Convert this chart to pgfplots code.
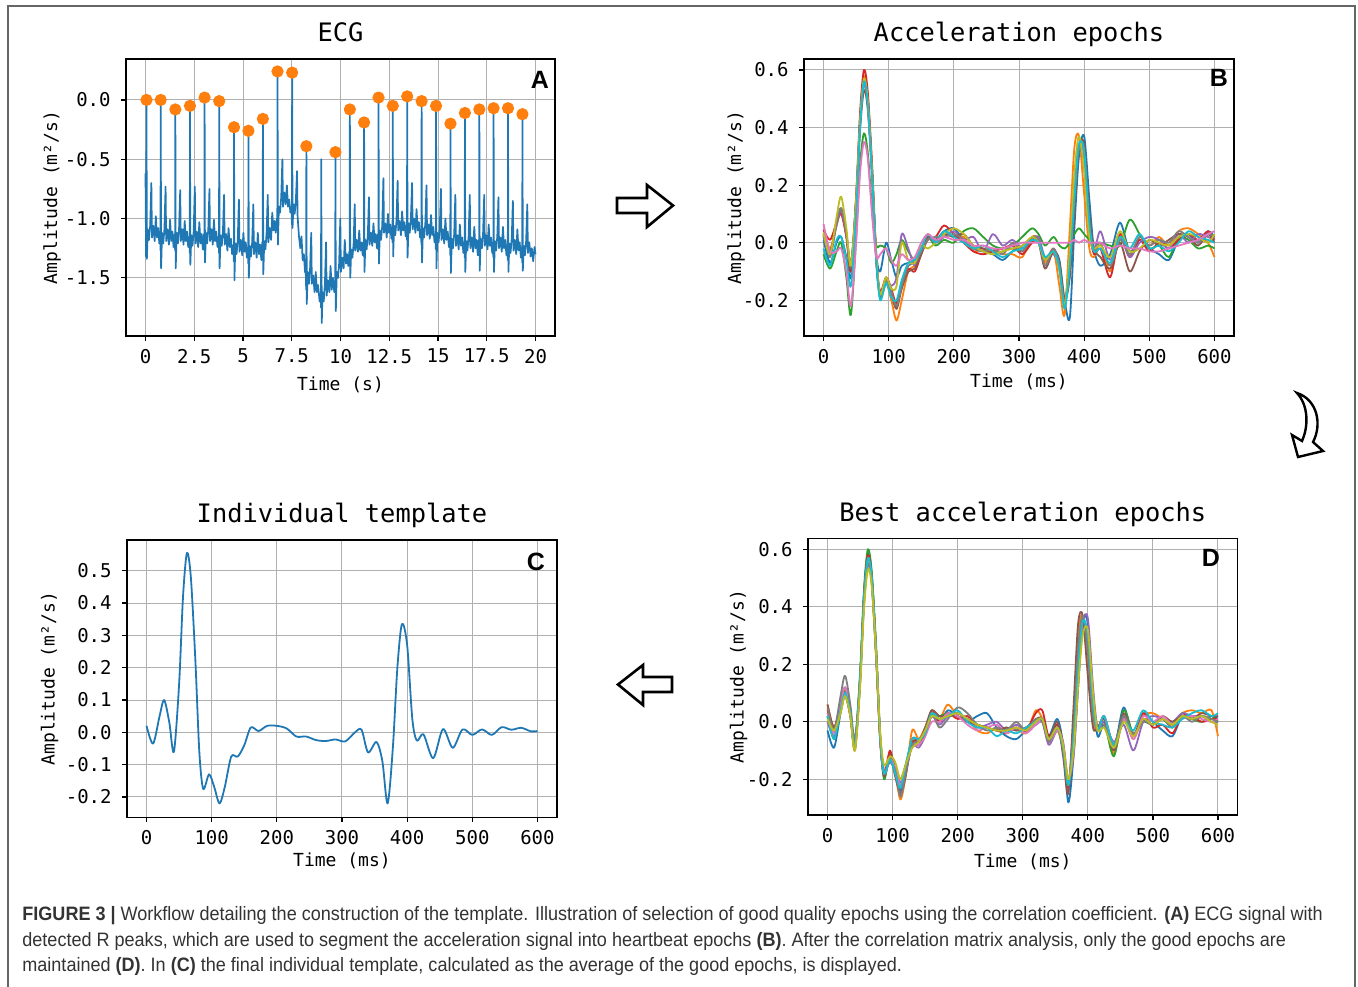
\documentclass[border=0pt]{standalone}
\usepackage{pgfplots}
\pgfplotsset{compat=1.18}
\usepackage{pgfplotstable}
\usepackage{fontspec}
\setmainfont{DejaVu Sans Mono}
\newfontfamily\capfont{Liberation Sans}[FakeStretch=0.93]
\newfontfamily\letfont{Liberation Sans}

\definecolor{c0}{HTML}{1F77B4}
\definecolor{c1}{HTML}{FF7F0E}
\definecolor{c2}{HTML}{2CA02C}
\definecolor{c3}{HTML}{D62728}
\definecolor{c4}{HTML}{9467BD}
\definecolor{c5}{HTML}{8C564B}
\definecolor{c6}{HTML}{E377C2}
\definecolor{c7}{HTML}{7F7F7F}
\definecolor{c8}{HTML}{BCBD22}
\definecolor{c9}{HTML}{17BECF}
\definecolor{gridgray}{HTML}{B0B0B0}
\definecolor{framegray}{HTML}{666666}

% template (panel C)
\pgfplotstableread{
t T
0 0.020
10 -0.035
20 0.050
27 0.100
35 0.030
42 -0.060
50 0.150
56 0.420
62 0.555
68 0.480
75 0.220
81 -0.060
87 -0.175
96 -0.130
104 -0.170
112 -0.220
120 -0.170
130 -0.075
140 -0.075
150 -0.040
160 0.015
172 0.004
185 0.020
200 0.020
215 0.012
230 -0.013
245 -0.013
260 -0.024
275 -0.027
290 -0.022
305 -0.028
320 0.000
330 0.008
340 -0.062
353 -0.030
362 -0.090
370 -0.220
378 -0.050
385 0.200
392 0.335
400 0.270
408 0.040
415 -0.026
425 -0.006
440 -0.080
455 0.010
470 -0.048
485 0.009
500 -0.008
515 0.009
530 -0.008
545 0.016
560 0.008
575 0.014
590 0.003
600 0.004
}\tmpl

% all epochs (panel B)
\pgfplotstableread{
t b0 b1 b2 b3 b4 b5 b6 b7 b8 b9
0 0.01 0.03 -0.04 0.045 0.02 0.03 0.065 0.025 0.035 -0.02
10 -0.07 -0.02 -0.09 0.01 -0.04 -0.03 -0.03 -0.05 -0.04 -0.08
20 0.0 0.06 -0.03 0.07 0.06 0.07 -0.03 0.07 0.09 0.01
27 0.02 0.11 0.0 0.10 0.11 0.12 -0.02 0.12 0.16 0.02
35 -0.05 0.02 -0.12 0.02 0.03 0.03 -0.10 0.03 0.05 -0.06
42 -0.12 -0.09 -0.25 -0.10 -0.07 -0.09 -0.22 -0.08 -0.08 -0.15
50 0.12 0.16 0.02 0.16 0.15 0.14 0.0 0.15 0.15 0.10
56 0.42 0.43 0.27 0.45 0.41 0.39 0.24 0.42 0.42 0.40
62 0.57 0.58 0.38 0.60 0.55 0.53 0.35 0.56 0.57 0.56
68 0.49 0.50 0.31 0.52 0.47 0.46 0.29 0.48 0.49 0.48
75 0.22 0.23 0.10 0.25 0.21 0.21 0.08 0.22 0.22 0.21
81 -0.04 -0.06 -0.01 -0.05 -0.07 -0.06 -0.05 -0.06 -0.05 -0.07
87 -0.10 -0.19 -0.01 -0.17 -0.18 -0.19 -0.04 -0.18 -0.18 -0.20
96 0.0 -0.14 -0.02 -0.12 -0.13 -0.14 -0.02 -0.13 -0.12 -0.14
104 -0.06 -0.20 -0.07 -0.16 -0.15 -0.18 -0.06 -0.17 -0.16 -0.19
112 -0.12 -0.27 -0.04 -0.21 -0.12 -0.23 -0.08 -0.22 -0.15 -0.20
120 -0.08 -0.20 0.01 -0.14 0.03 -0.16 -0.04 -0.15 0.0 -0.13
130 -0.07 -0.10 -0.03 -0.09 -0.02 -0.10 -0.06 -0.08 -0.06 -0.07
140 -0.06 -0.08 -0.06 -0.10 -0.08 -0.09 -0.05 -0.07 -0.07 -0.06
150 -0.02 -0.03 -0.02 -0.04 -0.03 -0.04 0.0 -0.03 -0.01 -0.02
160 0.02 0.03 0.02 0.01 0.02 0.02 0.03 0.01 -0.02 0.03
172 0.01 0.0 -0.01 0.02 0.0 0.01 0.01 0.02 0.0 0.0
185 0.04 0.03 0.01 0.06 0.02 0.03 0.02 0.02 0.03 0.04
200 0.05 0.02 0.0 0.03 0.04 0.02 0.01 0.03 0.05 0.02
215 0.01 0.02 0.04 0.0 0.01 0.03 0.01 0.01 0.03 0.0
230 -0.02 -0.03 0.05 -0.03 0.02 -0.01 -0.01 -0.02 -0.01 -0.02
245 -0.03 -0.02 0.02 -0.04 -0.03 -0.02 -0.01 -0.03 -0.03 -0.01
260 -0.04 -0.03 -0.01 -0.03 0.03 -0.04 -0.02 -0.02 -0.04 -0.03
275 -0.06 -0.04 -0.02 -0.02 -0.01 -0.03 -0.02 -0.04 -0.03 -0.05
290 -0.03 -0.04 -0.01 -0.01 0.01 -0.02 -0.01 0.0 -0.02 -0.03
305 -0.01 -0.05 0.02 -0.04 -0.02 -0.03 0.0 -0.03 -0.01 -0.02
320 0.01 0.02 0.05 0.0 0.01 0.01 0.0 0.02 0.02 0.01
330 0.0 0.01 0.03 0.01 0.02 0.0 0.0 0.01 0.0 0.0
340 -0.06 -0.07 -0.01 -0.06 -0.05 -0.09 0.0 -0.08 -0.06 -0.05
353 -0.03 -0.03 0.02 -0.02 -0.04 -0.03 0.0 -0.02 -0.03 -0.03
362 -0.06 -0.15 -0.01 -0.08 -0.09 -0.07 0.0 -0.08 -0.10 -0.09
370 -0.20 -0.25 -0.02 -0.22 -0.21 -0.20 0.0 -0.21 -0.22 -0.23
378 -0.26 0.05 0.0 -0.06 -0.07 -0.12 0.0 -0.05 -0.03 -0.08
385 0.05 0.33 0.03 0.18 0.17 0.10 0.01 0.20 0.24 0.15
392 0.30 0.37 0.05 0.34 0.34 0.33 0.0 0.33 0.37 0.34
400 0.37 0.17 0.03 0.30 0.30 0.34 0.01 0.26 0.25 0.32
408 0.15 -0.02 0.01 0.06 0.05 0.10 0.0 0.04 0.02 0.07
415 -0.02 -0.05 0.0 -0.04 -0.03 -0.02 0.0 -0.03 -0.02 -0.03
425 -0.08 0.0 0.0 -0.02 0.04 -0.05 0.0 0.0 -0.01 -0.02
440 -0.04 -0.10 -0.01 -0.12 -0.06 -0.09 -0.02 -0.08 -0.05 -0.07
455 0.07 0.02 -0.01 0.03 0.02 0.0 -0.01 0.01 0.04 0.02
470 -0.03 -0.05 0.08 -0.05 -0.05 -0.10 -0.02 -0.04 -0.03 -0.02
485 0.01 0.02 0.03 0.01 0.0 -0.03 -0.02 0.02 -0.02 0.03
500 -0.02 -0.01 -0.02 -0.03 0.02 0.01 -0.03 -0.01 0.01 -0.02
515 -0.04 0.02 -0.01 0.0 0.01 -0.01 -0.03 0.01 0.0 -0.01
530 -0.06 -0.01 -0.05 -0.02 -0.02 0.01 -0.02 0.0 -0.01 -0.03
545 0.01 0.04 0.02 0.01 0.03 0.03 -0.01 0.04 0.02 0.0
560 0.03 0.05 0.01 0.03 0.0 0.02 0.0 0.02 0.03 0.04
575 0.0 0.03 -0.02 0.01 0.03 -0.01 0.01 0.0 0.02 0.02
590 0.04 0.0 -0.01 0.04 0.02 0.03 0.03 0.03 0.0 0.01
600 0.02 -0.05 -0.02 0.01 0.01 0.0 0.04 0.02 0.03 0.0
}\epochsB

% good epochs (panel D)
\pgfplotstableread{
t d0 d1 d2 d3 d4 d5 d6 d7 d8 d9
0 -0.03 0.06 0.02 0.04 0.0 0.06 0.03 0.05 0.01 0.02
10 -0.09 -0.02 -0.06 -0.04 -0.05 -0.02 -0.04 -0.03 -0.03 -0.06
20 0.03 0.05 0.04 0.05 0.04 0.07 0.06 0.09 0.03 0.04
27 0.09 0.10 0.11 0.10 0.10 0.12 0.12 0.16 0.09 0.10
35 0.02 0.03 0.03 0.02 0.04 0.04 0.03 0.06 0.02 0.03
42 -0.09 -0.10 -0.09 -0.08 -0.10 -0.08 -0.09 -0.06 -0.10 -0.09
50 0.15 0.15 0.17 0.14 0.13 0.15 0.14 0.16 0.12 0.15
56 0.44 0.43 0.46 0.44 0.42 0.41 0.42 0.42 0.39 0.43
62 0.59 0.57 0.60 0.58 0.56 0.55 0.56 0.55 0.53 0.57
68 0.51 0.49 0.52 0.50 0.49 0.48 0.49 0.48 0.47 0.50
75 0.23 0.22 0.25 0.23 0.22 0.21 0.22 0.21 0.22 0.23
81 -0.06 -0.07 -0.05 -0.06 -0.05 -0.07 -0.06 -0.06 -0.04 -0.06
87 -0.19 -0.18 -0.20 -0.18 -0.17 -0.19 -0.18 -0.17 -0.15 -0.18
96 -0.12 -0.13 -0.11 -0.10 -0.14 -0.12 -0.13 -0.14 -0.12 -0.13
104 -0.17 -0.18 -0.16 -0.18 -0.17 -0.19 -0.16 -0.17 -0.14 -0.18
112 -0.24 -0.27 -0.20 -0.22 -0.21 -0.25 -0.22 -0.26 -0.20 -0.23
120 -0.16 -0.19 -0.15 -0.17 -0.18 -0.19 -0.16 -0.18 -0.15 -0.15
130 -0.06 -0.03 -0.07 -0.07 -0.08 -0.06 -0.09 -0.08 -0.09 -0.06
140 -0.06 -0.06 -0.08 -0.07 -0.09 -0.07 -0.08 -0.07 -0.07 -0.06
150 -0.03 -0.02 -0.04 -0.04 -0.05 -0.02 -0.05 -0.04 -0.03 -0.04
160 0.02 0.03 0.02 0.04 0.02 0.04 0.0 0.03 0.02 0.03
172 0.0 0.01 0.02 0.0 -0.01 0.02 0.0 -0.02 0.01 0.01
185 0.04 0.06 0.03 0.03 0.02 0.02 0.03 0.01 0.02 0.02
200 0.02 0.02 0.03 0.01 0.03 0.02 0.02 0.05 0.03 0.04
215 0.0 0.01 0.01 0.02 0.01 0.0 -0.01 0.03 0.01 0.0
230 0.02 -0.03 -0.01 -0.01 -0.02 -0.01 -0.03 -0.01 -0.01 -0.02
245 0.03 -0.04 -0.02 -0.02 -0.01 -0.02 -0.02 -0.03 -0.02 -0.02
260 -0.02 -0.02 -0.03 -0.03 0.0 -0.03 -0.01 -0.02 -0.03 -0.05
275 -0.05 -0.03 -0.02 -0.04 -0.03 -0.02 -0.04 -0.03 -0.03 -0.03
290 -0.06 -0.02 -0.03 -0.02 -0.01 -0.03 -0.02 0.0 -0.02 -0.04
305 -0.03 -0.04 -0.02 -0.03 -0.03 -0.02 -0.04 -0.03 -0.03 -0.02
320 -0.01 0.04 0.0 0.03 -0.01 0.01 -0.01 0.01 0.0 0.0
330 0.0 0.01 0.01 0.04 0.0 0.01 0.0 0.0 0.01 0.01
340 -0.05 -0.06 -0.07 -0.05 -0.08 -0.06 -0.07 -0.07 -0.06 -0.06
353 0.01 -0.03 -0.02 -0.01 -0.03 0.0 -0.03 -0.02 -0.02 -0.02
362 -0.08 -0.10 -0.09 -0.08 -0.07 -0.12 -0.08 -0.10 -0.08 -0.09
370 -0.28 -0.22 -0.22 -0.23 -0.20 -0.25 -0.21 -0.22 -0.20 -0.22
378 -0.12 0.0 -0.05 -0.06 -0.12 0.05 -0.06 -0.03 -0.10 -0.06
385 0.12 0.30 0.20 0.19 0.12 0.34 0.18 0.25 0.12 0.18
392 0.35 0.37 0.34 0.35 0.34 0.37 0.35 0.37 0.30 0.35
400 0.34 0.20 0.30 0.29 0.36 0.16 0.30 0.24 0.32 0.30
408 0.10 0.0 0.05 0.05 0.12 -0.02 0.06 0.02 0.10 0.06
415 -0.05 -0.03 -0.02 -0.03 -0.02 -0.02 -0.03 -0.02 -0.03 -0.03
425 -0.01 0.01 0.0 0.02 0.0 0.01 0.02 -0.01 -0.02 0.02
440 -0.09 -0.11 -0.12 -0.08 -0.07 -0.10 -0.09 -0.08 -0.09 -0.08
455 0.05 0.01 0.04 0.02 -0.01 0.03 0.01 0.02 0.0 0.0
470 -0.05 -0.06 -0.04 -0.05 -0.10 -0.05 -0.06 -0.04 -0.05 -0.03
485 0.03 0.02 0.0 0.03 0.0 0.01 0.02 0.0 0.01 0.04
500 0.0 0.03 -0.01 -0.02 0.02 -0.01 0.0 -0.01 -0.01 0.0
515 -0.03 0.01 0.01 -0.01 0.01 0.02 0.02 0.01 0.01 -0.01
530 -0.05 -0.01 -0.02 -0.04 0.0 0.0 -0.01 -0.02 -0.01 -0.02
545 0.02 0.03 0.03 0.02 0.03 0.02 0.01 0.02 0.02 0.01
560 0.01 0.04 0.01 0.02 0.02 0.01 0.02 0.0 0.01 0.03
575 0.02 0.03 0.0 0.0 0.02 0.03 0.01 0.02 0.02 0.04
590 0.01 0.04 0.02 0.01 0.0 0.02 0.0 0.01 0.0 0.02
600 0.02 -0.05 0.0 0.01 0.0 0.02 0.01 0.0 -0.01 0.03
}\epochsD

\pgfplotsset{
  panel/.style={
    scale only axis, anchor=south west,
    grid=major, grid style={color=gridgray, line width=0.5pt},
    axis line style={line width=0.75pt},
    tick align=outside, xtick pos=bottom, ytick pos=left,
    major tick length=2.3pt, tick style={line width=0.6pt, color=black},
    tick label style={font=\fontsize{9.5}{10}\selectfont},
    label style={font=\fontsize{9}{10}\selectfont},
    every axis title/.style={at={(rel axis cs:0.5,1)}, anchor=base, yshift=8.6pt},
    title style={font=\fontsize{12.7}{14}\selectfont},
    xticklabel style={anchor=north, inner sep=0pt, yshift=-4pt},
    yticklabel style={anchor=east, inner sep=0pt, xshift=-5.2pt},
    yticklabel style={/pgf/number format/fixed, /pgf/number format/fixed zerofill,
      /pgf/number format/precision=1},
    /pgf/number format/assume math mode=true,
    every axis plot/.append style={line width=0.9pt, line join=round},
  },
  acc/.style={
    panel, xmin=-30, xmax=630, ymin=-0.324, ymax=0.638,
    xtick={0,100,200,300,400,500,600},
    ytick={-0.2,0,0.2,0.4,0.6},
    xlabel={Time (ms)}, ylabel={Amplitude (m²/s)},
  },
}

\begin{document}
\begin{tikzpicture}
\useasboundingbox (0,0) rectangle (679pt,-493pt);
% outer frame
\draw[framegray, line width=1pt] (4pt,-3pt) rectangle (677.5pt,-500pt);

% arrows
\draw[line width=1.3pt, line join=miter] (308.5pt,-99pt) -- (323.5pt,-99pt) -- (323.5pt,-92.5pt)
  -- (336.5pt,-102.75pt) -- (323.5pt,-113.5pt) -- (323.5pt,-106.5pt) -- (308.5pt,-106.5pt) -- cycle;
\draw[line width=1.3pt, line join=miter] (309pt,-342.25pt) -- (321.5pt,-332.5pt) -- (321.5pt,-338.5pt)
  -- (336pt,-338.5pt) -- (336pt,-346pt) -- (321.5pt,-346pt) -- (321.5pt,-352.5pt) -- cycle;
\draw[line width=1.2pt, line join=miter] (648.5pt,-196.5pt)
  .. controls (659pt,-200pt) and (661pt,-212.5pt) .. (656.5pt,-221pt)
  -- (661.5pt,-225.5pt) -- (649pt,-228.5pt) -- (646pt,-217.5pt) -- (651pt,-220.5pt)
  .. controls (654.5pt,-212.5pt) and (654pt,-202.5pt) .. (648.5pt,-196.5pt) -- cycle;

% ---------- A: ECG ----------
\begin{axis}[panel, at={(63pt,-168pt)}, width=214.5pt, height=138.5pt,
  xmin=-1, xmax=21, ymin=-1.99, ymax=0.345,
  xtick={0,2.5,5,7.5,10,12.5,15,17.5,20},
  xticklabels={0,2.5,5,7.5,10,12.5,15,17.5,20},
  ytick={-1.5,-1,-0.5,0},
  title={ECG},
  xlabel={Time (s)}, ylabel={Amplitude (m²/s)},
  xlabel style={at={([yshift=-24.5pt]rel axis cs:0.5,0)}, anchor=center},
  ylabel style={at={([xshift=-37pt]rel axis cs:0,0.5)}, anchor=center},
]
\addplot[c0, no marks, line width=0.85pt] coordinates {
(0,-0.62)(0.03,-1.32)(0.05,0.0)(0.07,-1.34)(0.12,-1.09)(0.18,-1.18)(0.24,-1.06)(0.30,-0.70)(0.33,-1.16)(0.40,-1.06)(0.47,-1.19)(0.53,-0.98)(0.59,-1.16)(0.65,-1.08)(0.71,-1.21)
(0.75,-1.13)(0.77,-1.27)(0.78,0.0)(0.80,-1.42)(0.85,-1.12)(0.91,-1.21)(0.97,-1.09)(1.03,-0.73)(1.06,-1.19)(1.13,-1.09)(1.20,-1.22)(1.26,-1.01)(1.32,-1.19)(1.38,-1.11)(1.44,-1.24)
(1.50,-1.13)(1.52,-1.27)(1.53,-0.08)(1.55,-1.42)(1.60,-1.12)(1.66,-1.21)(1.72,-1.09)(1.78,-0.76)(1.81,-1.19)(1.88,-1.09)(1.95,-1.22)(2.01,-1.02)(2.07,-1.19)(2.13,-1.11)(2.19,-1.24)
(2.25,-1.15)(2.27,-1.29)(2.28,-0.05)(2.30,-1.39)(2.35,-1.14)(2.41,-1.23)(2.47,-1.11)(2.53,-0.73)(2.56,-1.21)(2.63,-1.11)(2.70,-1.24)(2.76,-1.03)(2.82,-1.21)(2.88,-1.13)(2.94,-1.26)
(3.00,-1.13)(3.02,-1.27)(3.03,0.02)(3.05,-1.37)(3.10,-1.12)(3.16,-1.21)(3.22,-1.09)(3.28,-0.75)(3.31,-1.19)(3.38,-1.09)(3.45,-1.22)(3.51,-1.01)(3.57,-1.19)(3.63,-1.11)(3.69,-1.24)
(3.75,-1.15)(3.77,-1.29)(3.78,-0.01)(3.80,-1.42)(3.85,-1.14)(3.91,-1.23)(3.97,-1.11)(4.03,-0.80)(4.06,-1.22)(4.13,-1.13)(4.20,-1.27)(4.26,-1.08)(4.32,-1.24)(4.38,-1.17)(4.44,-1.30)
(4.51,-1.22)(4.53,-1.36)(4.54,-0.23)(4.56,-1.52)(4.61,-1.21)(4.67,-1.30)(4.73,-1.18)(4.79,-0.84)(4.82,-1.28)(4.89,-1.18)(4.96,-1.31)(5.02,-1.12)(5.08,-1.28)(5.14,-1.20)(5.20,-1.33)
(5.25,-1.24)(5.27,-1.38)(5.28,-0.26)(5.30,-1.50)(5.35,-1.23)(5.41,-1.32)(5.47,-1.20)(5.53,-0.88)(5.56,-1.30)(5.63,-1.20)(5.70,-1.33)(5.76,-1.12)(5.82,-1.30)(5.88,-1.22)(5.94,-1.35)
(5.99,-1.20)(6.01,-1.34)(6.02,-0.16)(6.04,-1.47)(6.09,-1.19)(6.15,-1.26)(6.21,-1.12)(6.27,-0.80)(6.30,-1.20)(6.37,-1.08)(6.44,-1.18)(6.50,-0.95)(6.56,-1.10)(6.62,-1.02)(6.68,-1.12)
(6.74,-1.00)(6.76,-1.10)(6.77,0.24)(6.79,-1.22)(6.84,-0.90)(6.90,-0.95)(6.96,-0.82)(7.02,-0.50)(7.05,-0.90)(7.12,-0.78)(7.19,-0.88)(7.25,-0.72)(7.31,-0.90)(7.37,-0.84)(7.43,-0.95)
(7.49,-0.90)(7.51,-1.05)(7.52,0.23)(7.54,-1.08)(7.59,-0.88)(7.65,-0.96)(7.71,-0.85)(7.77,-0.60)(7.80,-0.98)(7.87,-1.15)(7.94,-1.25)(8.00,-1.15)(8.06,-1.35)(8.12,-1.30)(8.18,-1.45)
(8.22,-1.46)(8.24,-1.60)(8.25,-0.39)(8.27,-1.72)(8.32,-1.45)(8.38,-1.55)(8.44,-1.42)(8.50,-1.12)(8.53,-1.55)(8.60,-1.48)(8.67,-1.62)(8.73,-1.45)(8.79,-1.62)(8.85,-1.56)(8.93,-1.70)
(8.98,-1.63)(9.00,-1.75)(9.01,-0.50)(9.04,-1.88)(9.08,-1.62)(9.14,-1.70)(9.20,-1.55)(9.26,-1.20)(9.29,-1.65)(9.36,-1.52)(9.43,-1.62)(9.49,-1.40)(9.55,-1.60)(9.61,-1.50)(9.68,-1.62)
(9.71,-1.55)(9.73,-1.62)(9.74,-0.44)(9.76,-1.78)(9.81,-1.45)(9.87,-1.50)(9.93,-1.38)(9.99,-1.00)(10.02,-1.45)(10.09,-1.33)(10.16,-1.42)(10.22,-1.18)(10.28,-1.38)(10.34,-1.30)(10.40,-1.40)
(10.45,-1.28)(10.47,-1.40)(10.48,-0.08)(10.50,-1.50)(10.55,-1.26)(10.61,-1.33)(10.67,-1.22)(10.73,-0.88)(10.76,-1.27)(10.83,-1.18)(10.90,-1.28)(10.96,-1.10)(11.02,-1.27)(11.08,-1.20)(11.14,-1.31)
(11.18,-1.20)(11.20,-1.32)(11.21,-0.19)(11.23,-1.45)(11.28,-1.18)(11.34,-1.26)(11.40,-1.14)(11.46,-0.82)(11.49,-1.22)(11.56,-1.12)(11.63,-1.23)(11.69,-1.04)(11.75,-1.20)(11.81,-1.13)(11.87,-1.25)
(11.92,-1.13)(11.94,-1.26)(11.95,0.02)(11.97,-1.38)(12.02,-1.10)(12.08,-1.18)(12.14,-1.06)(12.20,-0.66)(12.23,-1.12)(12.30,-1.04)(12.37,-1.16)(12.43,-0.96)(12.49,-1.12)(12.55,-1.05)(12.61,-1.17)
(12.65,-1.08)(12.67,-1.20)(12.68,-0.05)(12.70,-1.32)(12.75,-1.06)(12.81,-1.14)(12.87,-1.02)(12.93,-0.68)(12.96,-1.10)(13.03,-1.02)(13.10,-1.14)(13.16,-0.94)(13.22,-1.10)(13.28,-1.03)(13.34,-1.15)
(13.39,-1.06)(13.41,-1.18)(13.42,0.03)(13.44,-1.33)(13.49,-1.04)(13.55,-1.12)(13.61,-1.00)(13.67,-0.70)(13.70,-1.09)(13.77,-1.00)(13.84,-1.12)(13.90,-0.92)(13.96,-1.10)(14.02,-1.03)(14.08,-1.16)
(14.13,-1.10)(14.15,-1.22)(14.16,-0.01)(14.18,-1.37)(14.23,-1.08)(14.29,-1.16)(14.35,-1.04)(14.41,-0.72)(14.44,-1.14)(14.51,-1.05)(14.58,-1.17)(14.64,-0.97)(14.70,-1.14)(14.76,-1.07)(14.82,-1.20)
(14.87,-1.13)(14.89,-1.26)(14.90,-0.05)(14.92,-1.42)(14.97,-1.12)(15.03,-1.20)(15.09,-1.08)(15.15,-0.75)(15.18,-1.18)(15.25,-1.09)(15.32,-1.21)(15.38,-1.00)(15.44,-1.18)(15.50,-1.11)(15.56,-1.24)
(15.61,-1.18)(15.63,-1.31)(15.64,-0.20)(15.66,-1.46)(15.71,-1.17)(15.77,-1.25)(15.83,-1.13)(15.89,-0.80)(15.92,-1.23)(15.99,-1.14)(16.06,-1.26)(16.12,-1.05)(16.18,-1.23)(16.24,-1.16)(16.30,-1.29)
(16.35,-1.20)(16.37,-1.33)(16.38,-0.11)(16.40,-1.45)(16.45,-1.19)(16.51,-1.27)(16.57,-1.15)(16.63,-0.80)(16.66,-1.25)(16.73,-1.16)(16.80,-1.28)(16.86,-1.07)(16.92,-1.25)(16.98,-1.18)(17.04,-1.31)
(17.09,-1.18)(17.11,-1.31)(17.12,-0.08)(17.14,-1.44)(17.19,-1.17)(17.25,-1.25)(17.31,-1.13)(17.37,-0.80)(17.40,-1.23)(17.47,-1.14)(17.54,-1.26)(17.60,-1.05)(17.66,-1.23)(17.72,-1.16)(17.78,-1.29)
(17.82,-1.20)(17.84,-1.33)(17.85,-0.07)(17.87,-1.45)(17.92,-1.19)(17.98,-1.27)(18.04,-1.15)(18.10,-0.82)(18.13,-1.25)(18.20,-1.16)(18.27,-1.28)(18.33,-1.07)(18.39,-1.25)(18.45,-1.18)(18.51,-1.31)
(18.56,-1.22)(18.58,-1.35)(18.59,-0.07)(18.61,-1.45)(18.66,-1.21)(18.72,-1.29)(18.78,-1.17)(18.84,-0.85)(18.87,-1.27)(18.94,-1.18)(19.01,-1.30)(19.07,-1.09)(19.13,-1.27)(19.19,-1.20)(19.25,-1.33)
(19.30,-1.24)(19.32,-1.37)(19.33,-0.12)(19.35,-1.44)(19.40,-1.23)(19.46,-1.31)(19.52,-1.19)(19.58,-0.88)(19.61,-1.29)(19.68,-1.20)(19.75,-1.32)(19.81,-1.25)(19.88,-1.36)(19.95,-1.24)(20.00,-1.30)
};
\addplot[only marks, mark=*, mark size=2.6pt, color=c1, mark options={draw=c1, fill=c1}] coordinates {
(0.05,0.0)(0.78,0.0)(1.53,-0.08)(2.28,-0.05)(3.03,0.02)(3.78,-0.01)(4.54,-0.23)(5.28,-0.26)(6.02,-0.16)
(6.77,0.24)(7.52,0.23)(8.25,-0.39)(9.74,-0.44)(10.48,-0.08)(11.21,-0.19)(11.95,0.02)(12.68,-0.05)
(13.42,0.03)(14.16,-0.01)(14.90,-0.05)(15.64,-0.20)(16.38,-0.11)(17.12,-0.08)(17.85,-0.07)(18.59,-0.07)(19.33,-0.12)
};
\end{axis}

% ---------- B: all epochs ----------
\begin{axis}[acc, at={(402pt,-168pt)}, width=215pt, height=138.5pt,
  title={Acceleration epochs},
  xlabel style={at={([yshift=-23pt]rel axis cs:0.5,0)}, anchor=center},
  ylabel style={at={([xshift=-34pt]rel axis cs:0,0.5)}, anchor=center},
]
\addplot[c0, smooth] table[x=t, y=b0] {\epochsB};
\addplot[c1, smooth] table[x=t, y=b1] {\epochsB};
\addplot[c2, smooth] table[x=t, y=b2] {\epochsB};
\addplot[c3, smooth] table[x=t, y=b3] {\epochsB};
\addplot[c4, smooth] table[x=t, y=b4] {\epochsB};
\addplot[c5, smooth] table[x=t, y=b5] {\epochsB};
\addplot[c7, smooth] table[x=t, y=b7] {\epochsB};
\addplot[c8, smooth] table[x=t, y=b8] {\epochsB};
\addplot[c9, smooth] table[x=t, y=b9] {\epochsB};
\addplot[c6, smooth] table[x=t, y=b6] {\epochsB};
\end{axis}

% ---------- C: template ----------
\begin{axis}[panel, at={(63.5pt,-408.65pt)}, width=215pt, height=138.65pt,
  xmin=-30, xmax=630, ymin=-0.263, ymax=0.595,
  xtick={0,100,200,300,400,500,600},
  ytick={-0.2,-0.1,0,0.1,0.2,0.3,0.4,0.5},
  title={Individual template},
  xlabel={Time (ms)}, ylabel={Amplitude (m²/s)},
  xlabel style={at={([yshift=-22pt]rel axis cs:0.5,0)}, anchor=center},
  ylabel style={at={([xshift=-38.7pt]rel axis cs:0,0.5)}, anchor=center},
]
\addplot[c0, smooth] table[x=t, y=T] {\tmpl};
\end{axis}

% ---------- D: good epochs ----------
\begin{axis}[acc, at={(404pt,-407.5pt)}, width=214.75pt, height=138.35pt,
  title={Best acceleration epochs},
  xlabel style={at={([yshift=-23.5pt]rel axis cs:0.5,0)}, anchor=center},
  ylabel style={at={([xshift=-34.7pt]rel axis cs:0,0.5)}, anchor=center},
]
\addplot[c0, smooth] table[x=t, y=d0] {\epochsD};
\addplot[c1, smooth] table[x=t, y=d1] {\epochsD};
\addplot[c2, smooth] table[x=t, y=d2] {\epochsD};
\addplot[c3, smooth] table[x=t, y=d3] {\epochsD};
\addplot[c4, smooth] table[x=t, y=d4] {\epochsD};
\addplot[c5, smooth] table[x=t, y=d5] {\epochsD};
\addplot[c6, smooth] table[x=t, y=d6] {\epochsD};
\addplot[c7, smooth] table[x=t, y=d7] {\epochsD};
\addplot[c9, smooth] table[x=t, y=d9] {\epochsD};
\addplot[c8, smooth] table[x=t, y=d8] {\epochsD};
\end{axis}

% panel letters
\begin{scope}[every node/.style={inner sep=0pt, font=\letfont\bfseries\fontsize{12.5}{13}\selectfont}]
\node at (270pt,-40pt) {A};
\node at (609.5pt,-39pt) {B};
\node at (268pt,-280.8pt) {C};
\node at (605.5pt,-278.7pt) {D};
\end{scope}

% caption
\begin{scope}[every node/.style={inner sep=0pt, anchor=base west, text=black!80,
    font=\capfont\fontsize{9.7}{11}\selectfont}]
\node at (11pt,-460pt) {\textbf{FIGURE 3 |} Workflow detailing the construction of the template. Illustration of selection of good quality epochs using the correlation coefficient. \textbf{(A)} ECG signal with};
\node at (11pt,-473pt) {detected R peaks, which are used to segment the acceleration signal into heartbeat epochs \textbf{(B)}. After the correlation matrix analysis, only the good epochs are};
\node at (11pt,-485.5pt) {maintained \textbf{(D)}. In \textbf{(C)} the final individual template, calculated as the average of the good epochs, is displayed.};
\end{scope}
\end{tikzpicture}
\end{document}
